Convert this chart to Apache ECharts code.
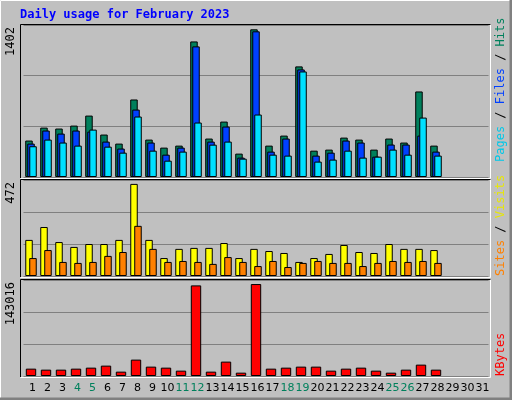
<!DOCTYPE html><html><head><meta charset="utf-8"><script src="https://cdn.jsdelivr.net/npm/echarts@6/dist/echarts.min.js"></script>
<style>html,body{margin:0;padding:0;background:#c0c0c0}#c{width:512px;height:400px}</style></head><body><div id="c"></div><script>
const days = Array.from({length:31},(_,i)=>String(i+1));
const weekendDays = ['4','5','11','12','18','19','25','26'];
const hits  = [346,469,460,488,583,403,317,736,355,279,298,1287,365,526,222,1402,298,393,1050,250,260,374,355,260,365,327,812,298];
const files = [317,441,412,441,431,336,270,640,327,212,279,1240,336,479,184,1383,241,365,1021,203,231,346,327,193,308,308,393,241];
const pages = [292,355,327,298,450,288,231,574,250,155,241,517,307,336,174,593,212,203,1002,146,165,250,184,193,260,212,564,203];
const sites = [185,251,174,149,164,164,185,472,185,92,139,144,144,169,92,139,128,118,72,92,113,159,123,118,164,139,139,133];
const visits= [92,133,72,67,72,103,123,257,139,72,77,72,62,97,72,51,77,46,67,77,67,67,51,67,77,72,77,67];
const kbytes= [11440,9880,9880,11440,13000,16120,6760,25480,14560,13000,8320,140920,6760,22360,5200,143016,11440,13000,14560,14560,8320,11440,13000,8320,5200,9880,17680,9880];
const maxLabels = ['1402','472','143016'];

const mono = 'DejaVu Sans Mono';
const grids = [{top:25,h:152},{top:180,h:96},{top:280,h:96}];
const maxes = [1443,492,149300];
const chart = echarts.init(document.getElementById('c'));
const bs = {borderColor:'#000',borderWidth:1};
function bar(data,color,gi,gap,w){return {type:'bar',data,xAxisIndex:gi,yAxisIndex:gi,barWidth:w,barGap:gap,itemStyle:Object.assign({color},bs),animation:false,silent:true};}
const g = [];
// outer bevel
g.push({type:'rect',shape:{x:0.5,y:0.5,width:511,height:399},style:{fill:'none',stroke:'#fff',lineWidth:1}});
g.push({type:'polyline',shape:{points:[[511,0],[511,399],[0,399]]},style:{fill:'none',stroke:'#808080',lineWidth:3}});
grids.forEach((gr,i)=>{
  g.push({type:'polyline',z:10,shape:{points:[[20.5,gr.top+gr.h+1],[20.5,gr.top-0.5],[491,gr.top-0.5]]},style:{fill:'none',stroke:'#000',lineWidth:1}});
  g.push({type:'polyline',z:10,shape:{points:[[20.5,gr.top+gr.h+1.5],[490.5,gr.top+gr.h+1.5],[490.5,gr.top-0.5]]},style:{fill:'none',stroke:'#fff',lineWidth:1}});
  g.push({type:'text',z:10,x:5,y:gr.top+2,rotation:Math.PI/2,style:{text:maxLabels[i],font:'12px '+mono,fill:'#000',align:'right',verticalAlign:'top'}});
});
function rlabel(y,parts){
  const rich={};let txt='';
  parts.forEach((p,k)=>{rich['a'+k]={fill:p[1],font:'12px '+mono};txt+='{a'+k+'|'+p[0]+'}';});
  g.push({type:'text',z:10,x:495,y:y,rotation:Math.PI/2,style:{text:txt,rich,align:'left',verticalAlign:'top'}});
}
rlabel(162,[['Pages','#00c8e8'],[' / ','#000'],['Files','#0040ff'],[' / ','#000'],['Hits','#00805c']]);
rlabel(276,[['Sites','#ff8000'],[' / ','#000'],['Visits','#e8e800']]);
rlabel(376,[['KBytes','#ff0000']]);
g.push({type:'text',z:10,x:20,y:9,style:{text:'Daily usage for February 2023',font:'bold 12px '+mono,fill:'#0000ff'}});

chart.setOption({
  backgroundColor:'#c0c0c0',animation:false,
  grid:grids.map(gr=>({left:23.5,width:465,top:gr.top,height:gr.h})),
  xAxis:grids.map((gr,i)=>({type:'category',gridIndex:i,data:days,axisLine:{show:false},axisTick:{show:false},
    axisLabel:{show:i===2,margin:7,interval:0,padding:[0,0,0,3],fontFamily:'DejaVu Sans',fontSize:11,
      color:(v)=>weekendDays.includes(v)?'#00805c':'#000'}})),
  yAxis:grids.map((gr,i)=>({type:'value',gridIndex:i,min:0,max:maxes[i],interval:maxes[i]/3,axisLabel:{show:false},axisLine:{show:false},axisTick:{show:false},
    splitLine:{lineStyle:{color:'#808080',width:1}}})),
  series:[
    bar(hits,'#00805c',0,'-73%',7.5),bar(files,'#0040ff',0,'-73%',7.5),bar(pages,'#00e0ff',0,'-73%',7.5),
    bar(sites,'#ffff00',1,'-47%',7.5),bar(visits,'#ff8000',1,'-47%',7.5),
    bar(kbytes,'#ff0000',2,'0%',10.4)
  ],
  graphic:g
});
</script></body></html>
